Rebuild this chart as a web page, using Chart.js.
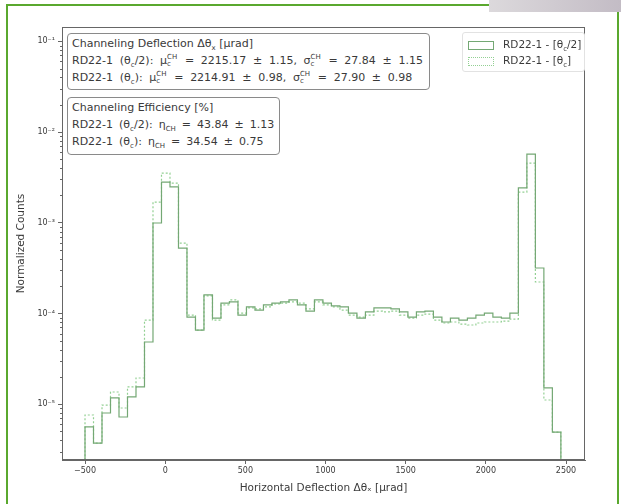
<!DOCTYPE html>
<html>
<head>
<meta charset="utf-8">
<script src="https://cdn.jsdelivr.net/npm/chart.js@4.4.0/dist/chart.umd.min.js"></script>
<style>
  html, body { margin: 0; padding: 0; background: #fff; }
  #wrap { position: relative; width: 621px; height: 504px; overflow: hidden; font-family: "DejaVu Sans", sans-serif; color: #3a3a3a; }
  #frame { position: absolute; left: 6px; top: 4px; width: 613px; height: 530px; border: 2px solid #5aa82e; box-sizing: border-box; }
  #corner { position: absolute; right: 0; top: 0; width: 132px; height: 12px; background: linear-gradient(90deg, #dcd9dc, #c3bcc5); }
  canvas { position: absolute; left: 0; top: 0; }
  .box { position: absolute; box-sizing: border-box; background: #fff; border: 1.3px solid #8a8a8a; border-radius: 4px;
         font-size: 11px; line-height: 17px; padding: 1px 0 0 4px; white-space: nowrap; }
  .m { word-spacing: 2.5px; }
  .m2 { word-spacing: 3.2px; }
  sub, sup { font-size: 7px; line-height: 0; }
  .ss { display: inline-flex; flex-direction: column; vertical-align: middle; font-size: 7px; line-height: 7px; margin-right: 1px; word-spacing: 0; }
  #legend { position: absolute; left: 462px; top: 32px; width: 123px; height: 40px; box-sizing: border-box;
            border: 1px solid #e2e2e2; border-radius: 3px; background: rgba(255,255,255,0.8); font-size: 10.5px; }
  .row { position: absolute; left: 5px; height: 12px; white-space: nowrap; }
  .handle { position: absolute; left: 0; top: 1px; width: 26px; height: 9px; box-sizing: border-box; }
  .row span { position: absolute; left: 35px; top: -2px; }
</style>
</head>
<body>
<div id="wrap">
  <canvas id="chart" width="621" height="504"></canvas>
  <div id="frame"></div>
  <div id="corner"></div>

  <div class="box" style="left:67px; top:33px; width:363px; height:57px;">
    <div>Channeling Deflection Δθ<sub>x</sub> [μrad]</div>
    <div class="m2">RD22-1 (θ<sub>c</sub>/2): μ<span class="ss"><span>CH</span><span>c</span></span> = 2215.17 ± 1.15, σ<span class="ss"><span>CH</span><span>c</span></span> = 27.84 ± 1.15</div>
    <div class="m2">RD22-1 (θ<sub>c</sub>): μ<span class="ss"><span>CH</span><span>c</span></span> = 2214.91 ± 0.98, σ<span class="ss"><span>CH</span><span>c</span></span> = 27.90 ± 0.98</div>
  </div>

  <div class="box" style="left:67px; top:97px; width:213px; height:58px;">
    <div>Channeling Efficiency [%]</div>
    <div class="m">RD22-1 (θ<sub>c</sub>/2): η<sub>CH</sub> = 43.84 ± 1.13</div>
    <div class="m">RD22-1 (θ<sub>c</sub>): η<sub>CH</sub> = 34.54 ± 0.75</div>
  </div>

  <div id="legend">
    <div class="row" style="top:7px;"><div class="handle" style="border:1.2px solid #74a874;"></div><span>RD22-1 - [θ<sub>c</sub>/2]</span></div>
    <div class="row" style="top:23px;"><div class="handle" style="border:1.2px dotted #93d093;"></div><span>RD22-1 - [θ<sub>c</sub>]</span></div>
  </div>
</div>

<script>
// histogram bins (µrad)
const binStart = -500;
const binWidth = 53;

// normalized counts per bin, RD22-1 at θc/2 (solid)
const countsHalf = [
  5.60e-6, 3.72e-6, 7.98e-6, 1.17e-5, 7.21e-6, 1.20e-5, 1.55e-5, 4.84e-5, 9.93e-4, 2.81e-3,
  2.48e-3, 5.26e-4, 9.12e-5, 6.56e-5, 1.60e-4, 8.89e-5, 1.30e-4, 1.34e-4, 9.60e-5, 1.18e-4,
  1.09e-4, 1.24e-4, 1.30e-4, 1.34e-4, 1.41e-4, 1.24e-4, 1.06e-4, 1.41e-4, 1.30e-4, 1.21e-4,
  1.18e-4, 1.01e-4, 8.89e-5, 1.04e-4, 1.15e-4, 1.15e-4, 1.12e-4, 1.04e-4, 9.12e-5, 1.04e-4,
  1.06e-4, 9.12e-5, 8.04e-5, 8.89e-5, 8.45e-5, 8.89e-5, 9.60e-5, 1.01e-4, 9.12e-5, 8.89e-5,
  1.01e-4, 2.42e-3, 5.72e-3, 3.17e-4, 1.51e-5, 4.92e-6
];

// normalized counts per bin, RD22-1 at θc (dotted)
const countsFull = [
  7.59e-6, 3.72e-6, 9.77e-6, 1.36e-5, 9.06e-6, 1.55e-5, 1.94e-5, 8.45e-5, 1.69e-3, 3.53e-3,
  2.74e-3, 5.97e-4, 9.60e-5, 6.56e-5, 1.56e-4, 8.45e-5, 1.24e-4, 1.41e-4, 1.01e-4, 1.15e-4,
  1.12e-4, 1.18e-4, 1.27e-4, 1.30e-4, 1.34e-4, 1.30e-4, 1.12e-4, 1.34e-4, 1.24e-4, 1.18e-4,
  1.09e-4, 9.60e-5, 9.12e-5, 9.60e-5, 1.06e-4, 1.04e-4, 1.06e-4, 9.60e-5, 8.89e-5, 9.60e-5,
  9.84e-5, 8.45e-5, 7.84e-5, 8.04e-5, 7.64e-5, 7.45e-5, 7.84e-5, 8.04e-5, 8.04e-5, 8.24e-5,
  8.67e-5, 2.18e-3, 4.55e-3, 2.22e-4, 1.11e-5, 4.92e-6
];

const xTicks = [-500, 0, 500, 1000, 1500, 2000, 2500];
const xTickLabels = ['\u2212500', '0', '500', '1000', '1500', '2000', '2500'];
const yTicks = [1e-5, 1e-4, 1e-3, 1e-2, 1e-1];
const yTickLabels = ['10\u207B\u2075', '10\u207B\u2074', '10\u207B\u00B3', '10\u207B\u00B2', '10\u207B\u00B9'];

const axisColor = '#666';
const floorValue = 1e-8;

// outline of a step histogram: up at the first edge, across each bin, down at the last edge
const stepPoints = (values) => {
  const pts = [{ x: binStart, y: floorValue }];
  values.forEach((v, i) => pts.push({ x: binStart + i * binWidth, y: v }));
  pts.push({ x: binStart + values.length * binWidth, y: floorValue });
  return pts;
};

const framePlugin = {
  id: 'frame',
  afterDraw(chart) {
    const { ctx, chartArea: a, scales } = chart;
    ctx.save();
    ctx.strokeStyle = axisColor;
    ctx.lineWidth = 1;
    ctx.strokeRect(a.left + 0.5, a.top + 0.5, a.right - a.left - 1, a.bottom - a.top - 1);
    // minor log ticks on the y axis
    const y = scales.y;
    ctx.beginPath();
    for (let e = -6; e <= 0; e++) {
      for (let m = 2; m <= 9; m++) {
        const v = m * Math.pow(10, e);
        if (v < y.min || v > y.max) continue;
        const py = Math.round(y.getPixelForValue(v)) + 0.5;
        ctx.moveTo(a.left - 2, py);
        ctx.lineTo(a.left, py);
      }
    }
    ctx.stroke();
    ctx.restore();
  }
};

const ctx = document.getElementById('chart').getContext('2d');
new Chart(ctx, {
  type: 'line',
  data: {
    datasets: [
      {
        label: 'RD22-1 - [θc/2]',
        data: stepPoints(countsHalf),
        borderColor: '#74a874',
        borderWidth: 1.2,
        stepped: 'before',
        pointRadius: 0,
        fill: false
      },
      {
        label: 'RD22-1 - [θc]',
        data: stepPoints(countsFull),
        borderColor: '#93d093',
        borderWidth: 1.2,
        borderDash: [2, 2],
        stepped: 'before',
        pointRadius: 0,
        fill: false
      }
    ]
  },
  options: {
    responsive: false,
    animation: false,
    layout: { padding: { left: 0, right: 36, top: 27, bottom: 0 } },
    plugins: { legend: { display: false }, tooltip: { enabled: false } },
    scales: {
      x: {
        type: 'linear',
        min: -643.5,
        max: 2618.5,
        afterBuildTicks: (s) => { s.ticks = xTicks.map(v => ({ value: v })); },
        afterFit: (s) => { s.height = 44; },
        ticks: {
          autoSkip: false,
          maxRotation: 0,
          padding: 2,
          color: '#3a3a3a',
          font: { family: 'DejaVu Sans', size: 8 },
          callback: (v) => xTickLabels[xTicks.indexOf(v)]
        },
        grid: { drawOnChartArea: false, drawTicks: true, tickLength: 4, color: axisColor },
        border: { display: true, color: axisColor },
        title: {
          display: true,
          text: 'Horizontal Deflection Δθₓ [μrad]',
          color: '#3a3a3a',
          font: { family: 'DejaVu Sans', size: 10.5 },
          padding: { top: 0, bottom: 9 }
        }
      },
      y: {
        type: 'logarithmic',
        min: 2.42e-6,
        max: 0.144,
        afterBuildTicks: (s) => { s.ticks = yTicks.map(v => ({ value: v })); },
        afterFit: (s) => { s.width = 62; },
        ticks: {
          autoSkip: false,
          padding: 3,
          color: '#3a3a3a',
          font: { family: 'DejaVu Sans', size: 8 },
          callback: (v) => yTickLabels[yTicks.indexOf(v)]
        },
        grid: { drawOnChartArea: false, drawTicks: true, tickLength: 4, color: axisColor },
        border: { display: true, color: axisColor },
        title: {
          display: true,
          text: 'Normalized Counts',
          color: '#3a3a3a',
          font: { family: 'DejaVu Sans', size: 10.5 },
          padding: { top: 15, bottom: 0 }
        }
      }
    }
  },
  plugins: [framePlugin]
});
</script>
</body>
</html>
